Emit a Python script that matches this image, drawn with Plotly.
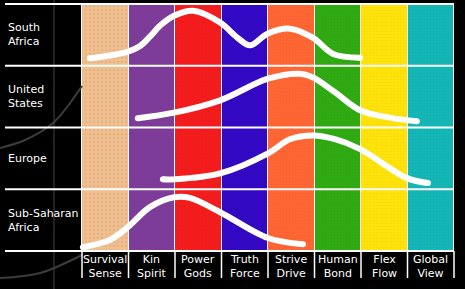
import plotly.graph_objects as go

# ---------------- data ----------------
columns = ["Survival<br>Sense", "Kin<br>Spirit", "Power<br>Gods", "Truth<br>Force",
           "Strive<br>Drive", "Human<br>Bond", "Flex<br>Flow", "Global<br>View"]
column_colors = ["#F0C08C", "#7D3C99", "#F41C1C", "#3308C4",
                 "#FF6633", "#30AA12", "#FFE30A", "#14B6B6"]
rows = ["South<br>Africa", "United<br>States", "Europe", "Sub-Saharan<br>Africa"]

# curve values: x in column units (0..8), y = share of row height (0..1)
sa_x = [0.17, 0.99, 1.25, 1.46, 1.68, 1.98, 2.39, 2.97, 3.35, 3.61, 3.99, 4.47, 4.97, 5.40, 5.98]
sa_y = [0.12, 0.23, 0.32, 0.47, 0.65, 0.81, 0.89, 0.70, 0.45, 0.33, 0.52, 0.60, 0.45, 0.19, 0.13]

us_x = [1.20, 1.98, 2.97, 4.00, 4.69, 4.97, 5.44, 5.98, 6.62, 7.20]
us_y = [0.15, 0.24, 0.44, 0.79, 0.87, 0.81, 0.57, 0.28, 0.16, 0.10]

eu_x = [1.74, 1.98, 2.99, 4.00, 4.47, 4.97, 5.44, 5.98, 6.99, 7.44]
eu_y = [0.16, 0.16, 0.26, 0.58, 0.81, 0.87, 0.81, 0.65, 0.18, 0.10]

ssa_x = [0.02, 0.60, 0.99, 1.46, 1.98, 2.32, 2.99, 4.00, 4.75]
ssa_y = [0.06, 0.18, 0.39, 0.71, 0.87, 0.86, 0.62, 0.21, 0.11]

curves = [(sa_x, sa_y), (us_x, us_y), (eu_x, eu_y), (ssa_x, ssa_y)]

# faint background decoration (pixel positions)
deco_upper_px = [(0, 148), (25, 140), (53, 123), (82, 86)]
deco_lower_px = [(0, 278), (40, 273), (82, 255)]
deco_vline_px = 54

# ---------------- figure ----------------
W, H = 465, 289
n_cols = len(columns)
n_rows = len(rows)
x_left_px, x_right_px = 82, 454
y_top_px, y_bot_px = 4, 251
cw = (x_right_px - x_left_px) / n_cols
rh = (y_bot_px - y_top_px) / n_rows
x_range = [-x_left_px / cw, (W - x_left_px) / cw]
y_range = [-(H - y_bot_px) / rh, n_rows + y_top_px / rh]


def px_x(p):
    return (p - x_left_px) / cw


def px_y(p):
    return (y_bot_px - p) / rh


fig = go.Figure()

# colour bands as bars
for i, (lab, col) in enumerate(zip(columns, column_colors)):
    pattern = dict(shape=".", fgcolor="#D8A08C", size=4, solidity=0.25) if i == 0 else \
              dict(shape=".", fgcolor="rgba(0,0,0,0.08)", size=3, solidity=0.2)
    fig.add_trace(go.Bar(x=[i + 0.5], y=[n_rows], base=0, width=1,
                         marker=dict(color=col, line=dict(color="white", width=1),
                                     pattern=pattern),
                         showlegend=False, hoverinfo="skip"))

# faint background decoration
fig.add_trace(go.Scatter(x=[px_x(deco_vline_px)] * 2, y=y_range,
                         mode="lines", line=dict(color="#444444", width=1),
                         showlegend=False, hoverinfo="skip"))
for seg in (deco_upper_px, deco_lower_px):
    fig.add_trace(go.Scatter(x=[px_x(a) for a, b in seg], y=[px_y(b) for a, b in seg],
                             mode="lines",
                             line=dict(color="#3c3c3c", width=2, shape="spline"),
                             showlegend=False, hoverinfo="skip"))

# row separators
shapes = []
for k in range(n_rows + 1):
    shapes.append(dict(type="line", xref="x", yref="y",
                       x0=px_x(5), x1=n_cols, y0=k, y1=k,
                       line=dict(color="white", width=2)))
# column label separators
for i in range(n_cols + 1):
    shapes.append(dict(type="line", xref="x", yref="y",
                       x0=i, x1=i, y0=0, y1=px_y(278),
                       line=dict(color="white", width=1.5)))
fig.update_layout(shapes=shapes)

# curves
for r, (cx, cy) in enumerate(curves):
    base = n_rows - 1 - r
    yy = [base + v for v in cy]
    fig.add_trace(go.Scatter(x=cx, y=yy, mode="lines",
                             line=dict(color="white", width=6, shape="spline", smoothing=1.0),
                             showlegend=False, hoverinfo="skip"))
    fig.add_trace(go.Scatter(x=[cx[0], cx[-1]], y=[yy[0], yy[-1]], mode="markers",
                             marker=dict(color="white", size=6),
                             showlegend=False, hoverinfo="skip"))

annotations = []
for r, lab in enumerate(rows):
    annotations.append(dict(x=px_x(6), y=n_rows - 0.5 - r, xref="x", yref="y",
                            text=lab, showarrow=False, xanchor="left", yanchor="middle",
                            align="left",
                            font=dict(family="DejaVu Sans", size=11, color="white")))
for i, lab in enumerate(columns):
    annotations.append(dict(x=i + 0.5, y=px_y(266), xref="x", yref="y",
                            text=lab, showarrow=False, xanchor="center", yanchor="middle",
                            align="center",
                            font=dict(family="DejaVu Sans", size=11, color="white")))

fig.update_layout(
    width=W, height=H, margin=dict(l=0, r=0, t=0, b=0),
    paper_bgcolor="black", plot_bgcolor="black",
    barmode="overlay", bargap=0,
    xaxis=dict(range=x_range, domain=[0, 1], visible=False, fixedrange=True),
    yaxis=dict(range=y_range, domain=[0, 1], visible=False, fixedrange=True),
    annotations=annotations,
)

fig.write_html("out.html")
